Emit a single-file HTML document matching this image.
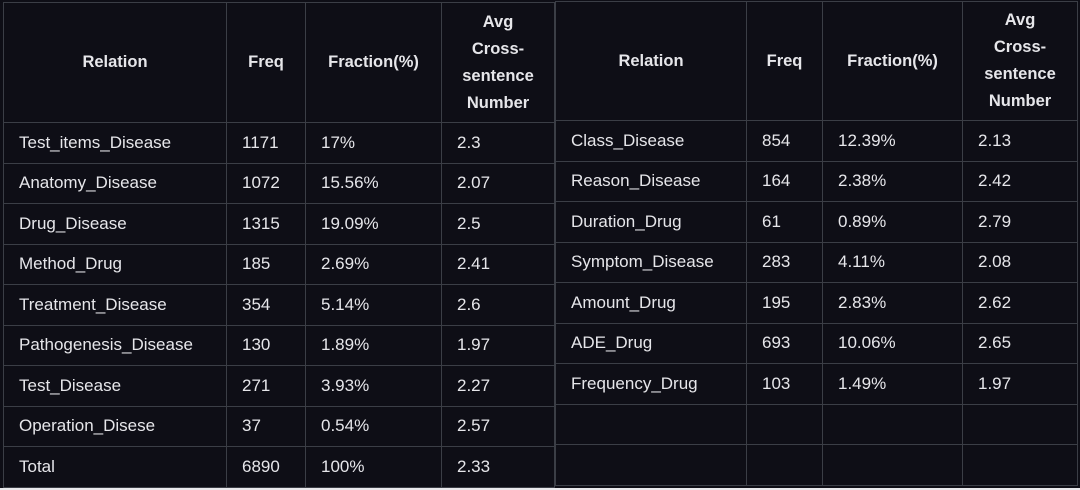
<!DOCTYPE html>
<html><head><meta charset="utf-8"><style>
body{margin:0;width:1080px;height:490px;background:#e9e9ec;overflow:hidden;font-family:"Liberation Sans",sans-serif}
.wrap{position:absolute;left:0;top:0;width:1080px;height:488px;background:#0e0e16}
table{position:absolute;border-collapse:collapse;table-layout:fixed;color:#e6e6ea;font-size:17px}
td,th{border:1.5px solid #3b3e46;padding:0 0 0 15px;text-align:left;white-space:nowrap;overflow:hidden}
th{font-weight:bold;text-align:center;padding:0 4px;line-height:27px;font-size:16.5px;white-space:normal}
td{height:39px}
tr.r{height:40.5px}
</style></head><body>
<div class="wrap">
<table id="t1" style="left:3px;top:2px;width:551px">
<colgroup><col style="width:223px"><col style="width:79px"><col style="width:136px"><col style="width:113px"></colgroup>
<tr style="height:120px"><th>Relation</th><th>Freq</th><th>Fraction(%)</th><th>Avg<br>Cross-<br>sentence<br>Number</th></tr>
<tr class="r"><td>Test_items_Disease</td><td>1171</td><td>17%</td><td>2.3</td></tr>
<tr class="r"><td>Anatomy_Disease</td><td>1072</td><td>15.56%</td><td>2.07</td></tr>
<tr class="r"><td>Drug_Disease</td><td>1315</td><td>19.09%</td><td>2.5</td></tr>
<tr class="r"><td>Method_Drug</td><td>185</td><td>2.69%</td><td>2.41</td></tr>
<tr class="r"><td>Treatment_Disease</td><td>354</td><td>5.14%</td><td>2.6</td></tr>
<tr class="r"><td>Pathogenesis_Disease</td><td>130</td><td>1.89%</td><td>1.97</td></tr>
<tr class="r"><td>Test_Disease</td><td>271</td><td>3.93%</td><td>2.27</td></tr>
<tr class="r"><td>Operation_Disese</td><td>37</td><td>0.54%</td><td>2.57</td></tr>
<tr class="r"><td>Total</td><td>6890</td><td>100%</td><td>2.33</td></tr>
</table>
<table id="t2" style="left:555px;top:1px;width:522px">
<colgroup><col style="width:191px"><col style="width:76px"><col style="width:140px"><col style="width:115px"></colgroup>
<tr style="height:119px"><th>Relation</th><th>Freq</th><th>Fraction(%)</th><th>Avg<br>Cross-<br>sentence<br>Number</th></tr>
<tr class="r"><td>Class_Disease</td><td>854</td><td>12.39%</td><td>2.13</td></tr>
<tr class="r"><td>Reason_Disease</td><td>164</td><td>2.38%</td><td>2.42</td></tr>
<tr class="r"><td>Duration_Drug</td><td>61</td><td>0.89%</td><td>2.79</td></tr>
<tr class="r"><td>Symptom_Disease</td><td>283</td><td>4.11%</td><td>2.08</td></tr>
<tr class="r"><td>Amount_Drug</td><td>195</td><td>2.83%</td><td>2.62</td></tr>
<tr class="r"><td>ADE_Drug</td><td>693</td><td>10.06%</td><td>2.65</td></tr>
<tr class="r"><td>Frequency_Drug</td><td>103</td><td>1.49%</td><td>1.97</td></tr>
<tr class="r"><td></td><td></td><td></td><td></td></tr>
<tr class="r"><td></td><td></td><td></td><td></td></tr>
</table>
</div>
</body></html>
